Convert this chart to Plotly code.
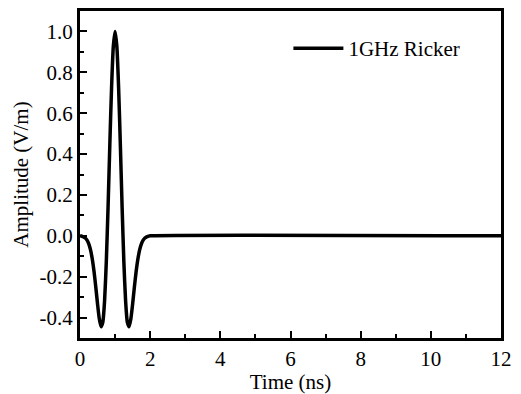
import plotly.graph_objects as go

# Values
time_ns = [0.00, 0.05, 0.10, 0.15, 0.20, 0.25, 0.30, 0.35, 0.40, 0.45,
           0.50, 0.55, 0.60, 0.65, 0.70, 0.75, 0.80, 0.85, 0.90, 0.95,
           1.00, 1.05, 1.10, 1.15, 1.20, 1.25, 1.30, 1.35, 1.40, 1.45,
           1.50, 1.55, 1.60, 1.65, 1.70, 1.75, 1.80, 1.85, 1.90, 1.95,
           2.00, 12.00]
amplitude = [0.0, -0.0023, -0.0051, -0.0106, -0.0210, -0.0392, -0.0688, -0.1135, -0.1749, -0.2510,
             -0.3337, -0.4062, -0.4449, -0.4233, -0.3194, -0.1261, 0.1418, 0.4452, 0.7272, 0.9275,
             1.0, 0.9275, 0.7272, 0.4452, 0.1418, -0.1261, -0.3194, -0.4233, -0.4449, -0.4062,
             -0.3337, -0.2510, -0.1749, -0.1135, -0.0688, -0.0392, -0.0210, -0.0106, -0.0051, -0.0023,
             0.0, 0.0]
x_ticks = [0, 2, 4, 6, 8, 10, 12]
y_ticks = [-0.4, -0.2, 0.0, 0.2, 0.4, 0.6, 0.8, 1.0]
y_tick_labels = ["-0.4", "-0.2", "0.0", "0.2", "0.4", "0.6", "0.8", "1.0"]

FONT = "Liberation Serif"
FS = 21

fig = go.Figure()
fig.add_trace(go.Scatter(x=time_ns, y=amplitude, mode="lines",
                         line=dict(color="black", width=3.5, shape="spline", smoothing=0.6),
                         name="1GHz Ricker"))

axis_common = dict(showgrid=False, zeroline=False, showline=True, linecolor="black",
                   linewidth=3, mirror=True, ticks="inside", tickcolor="black",
                   tickwidth=2, ticklen=7,
                   tickfont=dict(family=FONT, size=FS, color="black"))

fig.update_xaxes(range=[0, 12], tickvals=x_ticks,
                 minor=dict(dtick=1, ticks="inside", ticklen=4, tickcolor="black", tickwidth=2),
                 title=dict(text="Time (ns)", font=dict(family=FONT, size=FS, color="black"),
                            standoff=0),
                 **axis_common)
fig.update_yaxes(range=[-0.5, 1.1], tickvals=y_ticks, ticktext=y_tick_labels,
                 minor=dict(dtick=0.1, ticks="inside", ticklen=4, tickcolor="black", tickwidth=2),
                 title=dict(text="Amplitude (V/m)", font=dict(family=FONT, size=FS, color="black"),
                            standoff=6),
                 **axis_common)

fig.update_layout(width=521, height=394,
                  margin=dict(l=80, r=20, t=8, b=55),
                  paper_bgcolor="white", plot_bgcolor="white",
                  showlegend=True,
                  legend=dict(x=0.495, y=0.885, xanchor="left", yanchor="middle",
                              bgcolor="rgba(0,0,0,0)",
                              font=dict(family=FONT, size=FS, color="black"),
                              itemwidth=50))

fig.write_html("out.html")
